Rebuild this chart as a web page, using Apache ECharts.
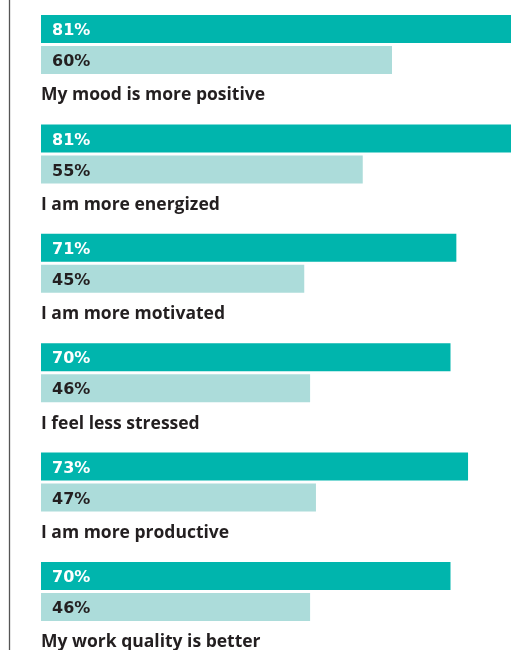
<!DOCTYPE html>
<html>
<head>
<meta charset="utf-8">
<script src="https://cdn.jsdelivr.net/npm/echarts@6/dist/echarts.min.js"></script>
<style>
  html, body { margin: 0; padding: 0; background: #ffffff; }
  #chart { width: 511px; height: 650px; }
</style>
</head>
<body>
<div id="chart"></div>
<script>
// Survey statements and the share of respondents agreeing (percent)
const categories = [
  'My mood is more positive',
  'I am more energized',
  'I am more motivated',
  'I feel less stressed',
  'I am more productive',
  'My work quality is better'
];
const primaryValues = [81, 81, 71, 70, 73, 70];
const secondaryValues = [60, 55, 45, 46, 47, 46];

const DARK = '#00b5ad';
const LIGHT = '#acdcda';
const INK = '#231f20';

const chart = echarts.init(document.getElementById('chart'), null, { renderer: 'canvas' });

const valueLabel = (color) => ({
  show: true,
  position: 'insideLeft',
  distance: 11,
  offset: [0, 2],
  formatter: '{c}%',
  color: color,
  fontFamily: 'DejaVu Sans',
  fontWeight: 'bold',
  fontSize: 16
});

chart.setOption({
  animation: false,
  grid: {
    left: 41, right: -115, top: -10.2, height: 656.4,
    outerBoundsMode: 'none', containLabel: false
  },
  xAxis: {
    type: 'value',
    min: 0,
    max: 100,
    show: false
  },
  yAxis: {
    type: 'category',
    data: categories,
    inverse: true,
    axisLine: { show: false },
    axisTick: { show: false },
    splitLine: { show: false },
    axisLabel: {
      inside: true,
      margin: 0,
      align: 'left',
      verticalAlign: 'top',
      lineHeight: 102,
      color: INK,
      fontFamily: 'Open Sans',
      fontWeight: 'bold',
      fontSize: 17.5
    }
  },
  series: [
    {
      name: 'primary',
      type: 'bar',
      data: primaryValues,
      barWidth: 28,
      barGap: '10.7%',
      itemStyle: { color: DARK },
      label: valueLabel('#ffffff')
    },
    {
      name: 'secondary',
      type: 'bar',
      data: secondaryValues,
      barWidth: 28,
      barGap: '10.7%',
      itemStyle: { color: LIGHT },
      label: valueLabel(INK)
    }
  ],
  graphic: [
    {
      type: 'line',
      shape: { x1: 9.5, y1: 0, x2: 9.5, y2: 650 },
      style: { stroke: '#555555', lineWidth: 1.3 }
    }
  ]
});
</script>
</body>
</html>
